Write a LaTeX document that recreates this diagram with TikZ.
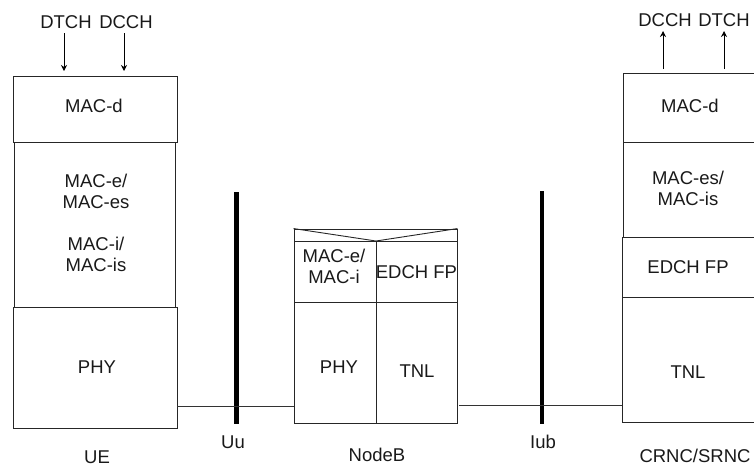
\documentclass[tikz,border=0pt]{standalone}
\usepackage{fontspec}
\setmainfont{Liberation Sans}
\usetikzlibrary{arrows.meta}
\begin{document}
\begin{tikzpicture}[x=1pt,y=-1pt,
  box/.style={draw=black!85, line width=0.9pt, inner sep=0pt},
  txt/.style={font=\fontsize{18.5}{21}\selectfont, align=center, inner sep=0pt, text=black!90},
  iface/.style={line width=4.5pt, black},
  link/.style={line width=0.9pt, black!80},
  chan/.style={line width=0.9pt, -{Stealth[length=6pt,width=6pt]}}]
\useasboundingbox (0,0) rectangle (754,467);
% ---------- UE ----------
\node[box, minimum width=164pt, minimum height=66pt] (ueMacd) at (95,109) {};
\node[box, minimum width=161pt, minimum height=165pt] (ueMace) at (94.5,224.5) {};
\node[box, minimum width=164pt, minimum height=121pt] (uePhy) at (95,367.5) {};
\node[txt] (tUeMacd) at (94,106) {MAC-d};
\node[txt] (tUeMace) at (96,222.5) {MAC-e/\\MAC-es\\[21pt]MAC-i/\\MAC-is};
\node[txt] (tUePhy) at (97,367) {PHY};
\node[txt] (tDtchL) at (66,22) {DTCH};
\node[txt] (tDcchL) at (126,22) {DCCH};
\coordinate (aL1s) at (64,33); \coordinate (aL1e) at (64,71);
\coordinate (aL2s) at (124,33); \coordinate (aL2e) at (124,71);
\draw[chan] (aL1s) -- (aL1e);
\draw[chan] (aL2s) -- (aL2e);
\node[txt] (lUe) at (97,457) {UE};
% ---------- NodeB ----------
\node[box, minimum width=163pt, minimum height=12pt] (nbTop) at (375.5,235) {};
\coordinate (nbV) at (376,241);
\draw[line width=0.9pt, black!85] (nbTop.north west) -- (nbV) -- (nbTop.north east);
\node[box, minimum width=82pt, minimum height=61pt] (nbMac) at (335,271.5) {};
\node[box, minimum width=81pt, minimum height=61pt] (nbFp) at (416.5,271.5) {};
\node[box, minimum width=82pt, minimum height=121pt] (nbPhy) at (335,362.5) {};
\node[box, minimum width=81pt, minimum height=121pt] (nbTnl) at (416.5,362.5) {};
\node[txt] (tNbMac) at (334,266) {MAC-e/\\MAC-i};
\node[txt] (tNbFp) at (416.5,272) {EDCH FP};
\node[txt] (tNbPhy) at (339,367) {PHY};
\node[txt] (tNbTnl) at (417,371) {TNL};
\node[txt] (lNb) at (377,455) {NodeB};
% ---------- CRNC/SRNC ----------
\node[box, minimum width=134pt, minimum height=69pt] (crMacd) at (690,107.5) {};
\node[box, minimum width=134pt, minimum height=95pt] (crMaces) at (690,189.5) {};
\node[box, minimum width=135pt, minimum height=60pt] (crFp) at (689.5,267) {};
\node[box, minimum width=135pt, minimum height=125pt] (crTnl) at (689.5,359.5) {};
\node[txt] (tCrMacd) at (690,106) {MAC-d};
\node[txt] (tCrMaces) at (688,188) {MAC-es/\\MAC-is};
\node[txt] (tCrFp) at (688,267) {EDCH FP};
\node[txt] (tCrTnl) at (688,372) {TNL};
\node[txt] (tDcchR) at (665,20) {DCCH};
\node[txt] (tDtchR) at (724,20) {DTCH};
\coordinate (aR1s) at (663,69); \coordinate (aR1e) at (663,31);
\coordinate (aR2s) at (724,69); \coordinate (aR2e) at (724,31);
\draw[chan] (aR1s) -- (aR1e);
\draw[chan] (aR2s) -- (aR2e);
\node[txt] (lCr) at (695,456) {CRNC/SRNC};
% ---------- interfaces ----------
\coordinate (uuT) at (236.5,192); \coordinate (uuB) at (236.5,424);
\coordinate (iubT) at (542,191); \coordinate (iubB) at (542,424);
\draw[iface] (uuT) -- (uuB);
\draw[iface] (iubT) -- (iubB);
\node[txt] (lUu) at (233,442) {Uu};
\node[txt] (lIub) at (543,442) {Iub};
\coordinate (hUu) at (0,406);
\coordinate (hIub) at (0,405);
\draw[link] (uePhy.east |- hUu) -- (nbPhy.west |- hUu);
\draw[link] ([xshift=2pt]nbTnl.east |- hIub) -- (crTnl.west |- hIub);
\end{tikzpicture}
\end{document}
